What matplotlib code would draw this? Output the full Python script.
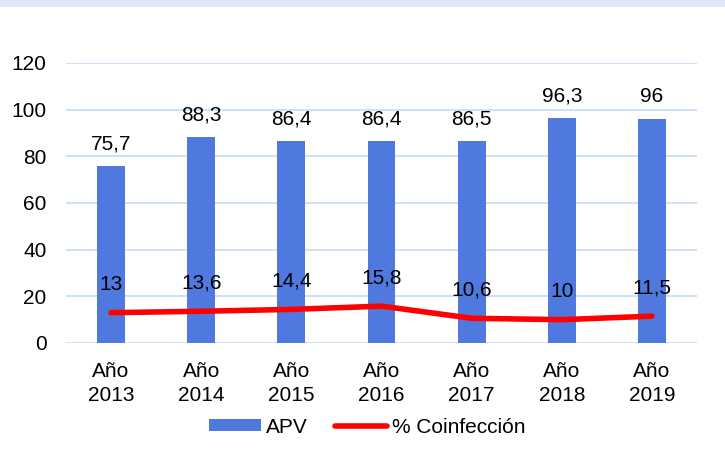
import matplotlib.pyplot as plt
import numpy as np
from matplotlib.patches import Rectangle

plt.rcParams["font.family"] = ["Liberation Sans", "DejaVu Sans"]

# ── data ──────────────────────────────────────────────────────────────────────
years = ["Año\n2013", "Año\n2014", "Año\n2015", "Año\n2016",
         "Año\n2017", "Año\n2018", "Año\n2019"]
apv = [75.7, 88.3, 86.4, 86.4, 86.5, 96.3, 96]
coinfeccion = [13, 13.6, 14.4, 15.8, 10.6, 10, 11.5]
yticks = [0, 20, 40, 60, 80, 100, 120]

# ── colours ───────────────────────────────────────────────────────────────────
COLOR_BAR = "#5079E0"
COLOR_LINE = "#FF0000"
COLOR_GRID = "#C9DEF4"
COLOR_BAND = "#DCE8F8"


def fmt(v):
    s = f"{v:g}"
    return s.replace(".", ",")


fig = plt.figure(figsize=(7.25, 4.58), dpi=100)
fig.patches.append(Rectangle((0, 0.985), 1, 0.015, transform=fig.transFigure,
                             facecolor=COLOR_BAND, edgecolor="none"))
ax = fig.add_axes([66 / 725, 1 - 343 / 458, 631 / 725, 280 / 458])

x = np.arange(len(years))
bars = ax.bar(x, apv, width=0.31, color=COLOR_BAR, zorder=2, label="APV")
line, = ax.plot(x, coinfeccion, color=COLOR_LINE, lw=4, solid_capstyle="round",
                zorder=3, label="% Coinfección")

for xi, v in zip(x, apv):
    ax.text(xi, v + 5.5, fmt(v), ha="center", va="bottom", fontsize=15)
for xi, v in zip(x, coinfeccion):
    ax.text(xi, v + 8, fmt(v), ha="center", va="bottom", fontsize=15)

ax.set_xlim(-0.5, len(years) - 0.5)
ax.set_ylim(0, 120)
ax.set_yticks(yticks)
ax.set_xticks(x)
ax.set_xticklabels(years, fontsize=15, linespacing=1.3)
ax.tick_params(axis="y", labelsize=15, length=0, pad=14)
ax.tick_params(axis="x", length=0, pad=14)
ax.grid(axis="y", color=COLOR_GRID, lw=1.3, zorder=0)
for sp in ax.spines.values():
    sp.set_visible(False)

ax.legend(handles=[bars, line], loc="upper center",
          bbox_to_anchor=(0.477, -0.2), ncol=2,
          frameon=False, fontsize=15, handlelength=2.5, handleheight=0.5,
          columnspacing=1.3, handletextpad=0.25)

fig.savefig("out.png", dpi=100)
